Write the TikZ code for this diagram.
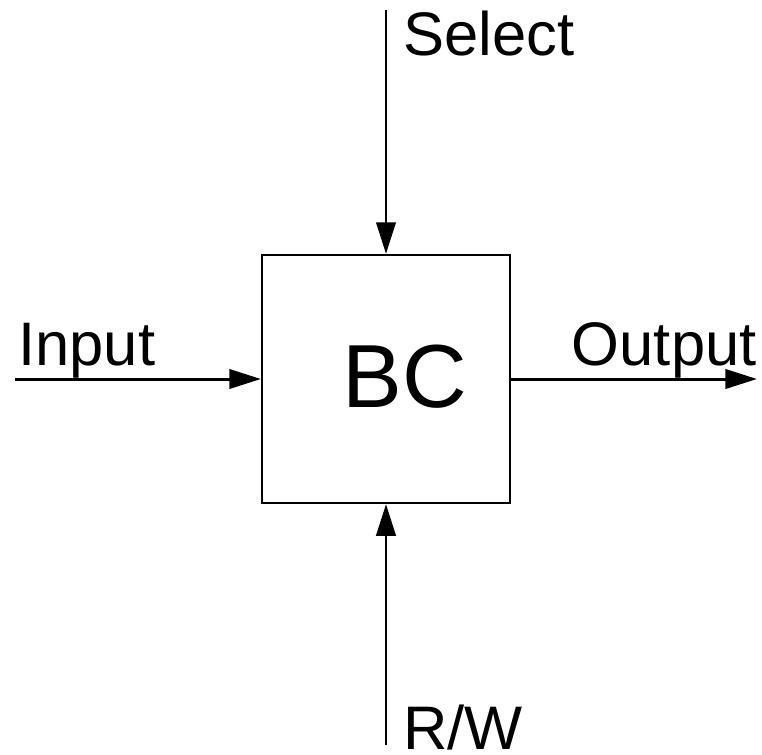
\documentclass[tikz,border=0pt]{standalone}
\usepackage{fontspec}
\setmainfont{Liberation Sans}
\usetikzlibrary{arrows.meta}

\begin{document}
\begin{tikzpicture}[x=0.02cm, y=-0.02cm, line width=1.7pt,
  sig/.style={-{Triangle[length=18pt, width=11pt]}},
  lbl/.style={font=\fontsize{35}{42}\selectfont, inner sep=0pt},
  blk/.style={draw, line width=1.3pt, minimum size=4.96cm, inner sep=0pt}]
  \useasboundingbox (0,0) rectangle (762,755);
  % block
  \node[blk] (box) at (386,379) {};
  \node[font=\fontsize{51}{60}\selectfont, inner sep=0pt, anchor=base] (bc) at (405,407) {BC};
  % free ends of the signals
  \coordinate (sel) at (386,10);
  \coordinate (rw) at (386,745);
  \coordinate (in) at (15,379);
  \coordinate (out) at (757,379);
  \draw[sig] (sel) -- (box.north);
  \draw[sig] (rw) -- (box.south);
  \draw[sig] (in) -- (box.west);
  \draw[sig] (box.east) -- (out);
  % labels
  \node[lbl, anchor=base west] (sellbl) at (402,55) {Select};
  \node[lbl, anchor=base west] (inlbl) at (17,365) {Input};
  \node[lbl, anchor=base east] (outlbl) at (758,365) {Output};
  \node[lbl, anchor=base west] (rwlbl) at (402,749) {R/W};
\end{tikzpicture}
\end{document}
